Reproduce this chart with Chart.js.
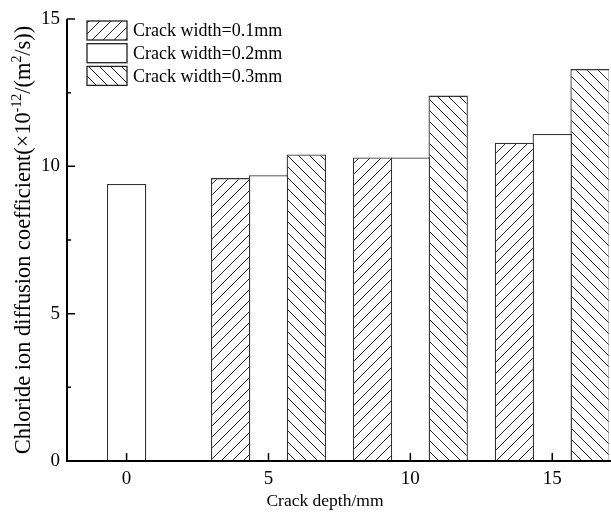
<!DOCTYPE html>
<html>
<head>
<meta charset="utf-8">
<script src="https://cdn.jsdelivr.net/npm/chart.js@4"></script>
<style>
  body { margin: 0; background: #fff; }
  canvas { display: block; }
</style>
</head>
<body>
<canvas id="diffChart" width="611" height="514"></canvas>
<script>
// crack depth (mm) and diffusion coefficient for each crack width
const depths = [0, 5, 10, 15];
const width01 = [null, 9.6, 10.3, 10.8];
const width02 = [9.4, 9.7, 10.3, 11.1];
const width03 = [null, 10.4, 12.4, 13.3];
const seriesLabels = ['Crack width=0.1mm', 'Crack width=0.2mm', 'Crack width=0.3mm'];
const yTicks = [0, 5, 10, 15];
const yMinorTicks = [2.5, 7.5, 12.5];
const xTicks = [0, 5, 10, 15];

const FONT = '"Liberation Serif", "Times New Roman", serif';
const canvas = document.getElementById('diffChart');
const ctx = canvas.getContext('2d');

// diagonal hatch fill, dir 1 = "/", dir -1 = "\"
function hatch(dir) {
  const s = 11;
  const c = document.createElement('canvas');
  c.width = s; c.height = s;
  const g = c.getContext('2d');
  g.fillStyle = '#fff';
  g.fillRect(0, 0, s, s);
  g.strokeStyle = '#222';
  g.lineWidth = 1;
  g.beginPath();
  for (let k = -1; k <= 1; k++) {
    if (dir > 0) {
      g.moveTo(k * s, s); g.lineTo(k * s + s, 0);
    } else {
      g.moveTo(k * s, 0); g.lineTo(k * s + s, s);
    }
  }
  g.stroke();
  return ctx.createPattern(c, 'repeat');
}

function toPoints(values) {
  return depths.map((d, i) => values[i] == null ? null : { x: d, y: values[i] }).filter(Boolean);
}

const fills = [hatch(1), '#fff', hatch(-1)];
const datasets = [width01, width02, width03].map((vals, i) => ({
  label: seriesLabels[i],
  data: toPoints(vals),
  backgroundColor: fills[i],
  borderColor: '#333',
  borderWidth: 1.3,
  borderSkipped: 'start',
  // a touch over 1 so neighbouring bars share one edge
  barPercentage: 1.04,
  categoryPercentage: 0.8
}));

// text with superscript pieces, drawn left to right from (x, y)
function drawRich(g, parts, x, y, size) {
  let cx = x;
  parts.forEach(p => {
    const fs = p.sup ? size * 0.62 : size;
    g.font = fs + 'px ' + FONT;
    g.fillText(p.t, cx, p.sup ? y - size * 0.4 : y);
    cx += g.measureText(p.t).width;
  });
  return cx - x;
}

function richWidth(g, parts, size) {
  let w = 0;
  parts.forEach(p => {
    g.font = (p.sup ? size * 0.62 : size) + 'px ' + FONT;
    w += g.measureText(p.t).width;
  });
  return w;
}

const axesPlugin = {
  id: 'axesPlugin',
  afterDraw(chart) {
    const g = chart.ctx;
    const area = chart.chartArea;
    const xs = chart.scales.x;
    const ys = chart.scales.y;
    g.save();
    g.strokeStyle = '#000';
    g.fillStyle = '#000';

    // axis lines
    g.lineWidth = 2;
    g.beginPath();
    g.moveTo(area.left, area.top);
    g.lineTo(area.left, area.bottom);
    g.lineTo(area.right + 2, area.bottom);
    g.stroke();

    // inward ticks
    g.lineWidth = 1.5;
    g.beginPath();
    yTicks.forEach(v => {
      const py = ys.getPixelForValue(v);
      g.moveTo(area.left, py); g.lineTo(area.left + 8, py);
    });
    yMinorTicks.forEach(v => {
      const py = ys.getPixelForValue(v);
      g.moveTo(area.left, py); g.lineTo(area.left + 4, py);
    });
    xTicks.forEach(v => {
      const px = xs.getPixelForValue(v);
      g.moveTo(px, area.bottom); g.lineTo(px, area.bottom - 8);
    });
    g.stroke();

    // tick labels
    g.font = '19px ' + FONT;
    g.textAlign = 'right';
    g.textBaseline = 'middle';
    yTicks.forEach(v => g.fillText(String(v), area.left - 7, ys.getPixelForValue(v)));
    g.textAlign = 'center';
    g.textBaseline = 'top';
    xTicks.forEach(v => g.fillText(String(v), xs.getPixelForValue(v), area.bottom + 9));

    // x title
    g.font = '17.5px ' + FONT;
    g.textBaseline = 'alphabetic';
    g.fillText('Crack depth/mm', 325, 506);

    // y title, rotated
    const parts = [
      { t: 'Chloride ion diffusion coefficient(\u00d710' },
      { t: '-12', sup: true },
      { t: '/(m' },
      { t: '2', sup: true },
      { t: '/s))' }
    ];
    const size = 22.4;
    const w = richWidth(g, parts, size);
    g.save();
    g.translate(30, (area.top + area.bottom) / 2);
    g.rotate(-Math.PI / 2);
    g.textAlign = 'left';
    drawRich(g, parts, -w / 2, 0, size);
    g.restore();

    // legend
    g.textAlign = 'left';
    g.textBaseline = 'middle';
    g.font = '18px ' + FONT;
    chart.data.datasets.forEach((ds, i) => {
      const bx = 87, by = 21 + i * 22.7, bw = 40, bh = 19;
      g.fillStyle = ds.backgroundColor;
      g.fillRect(bx, by, bw, bh);
      g.strokeStyle = '#222';
      g.lineWidth = 1.3;
      g.strokeRect(bx, by, bw, bh);
      g.fillStyle = '#000';
      g.fillText(ds.label, bx + 46, by + bh / 2 + 1);
    });
    g.restore();
  }
};

const diffChart = new Chart(ctx, {
  type: 'bar',
  data: { datasets },
  options: {
    responsive: false,
    animation: false,
    devicePixelRatio: 1,
    layout: { padding: { left: 67, right: 2, top: 19, bottom: 53 } },
    plugins: {
      legend: { display: false },
      tooltip: { enabled: false }
    },
    scales: {
      x: {
        type: 'linear', min: -2.1, max: 17, offset: false, display: false,
        // only the depth ticks, so the bar ruler uses the 5 mm spacing
        afterBuildTicks: scale => { scale.ticks = xTicks.map(v => ({ value: v })); }
      },
      y: { min: 0, max: 15, display: false }
    }
  },
  plugins: [axesPlugin]
});
</script>
</body>
</html>
